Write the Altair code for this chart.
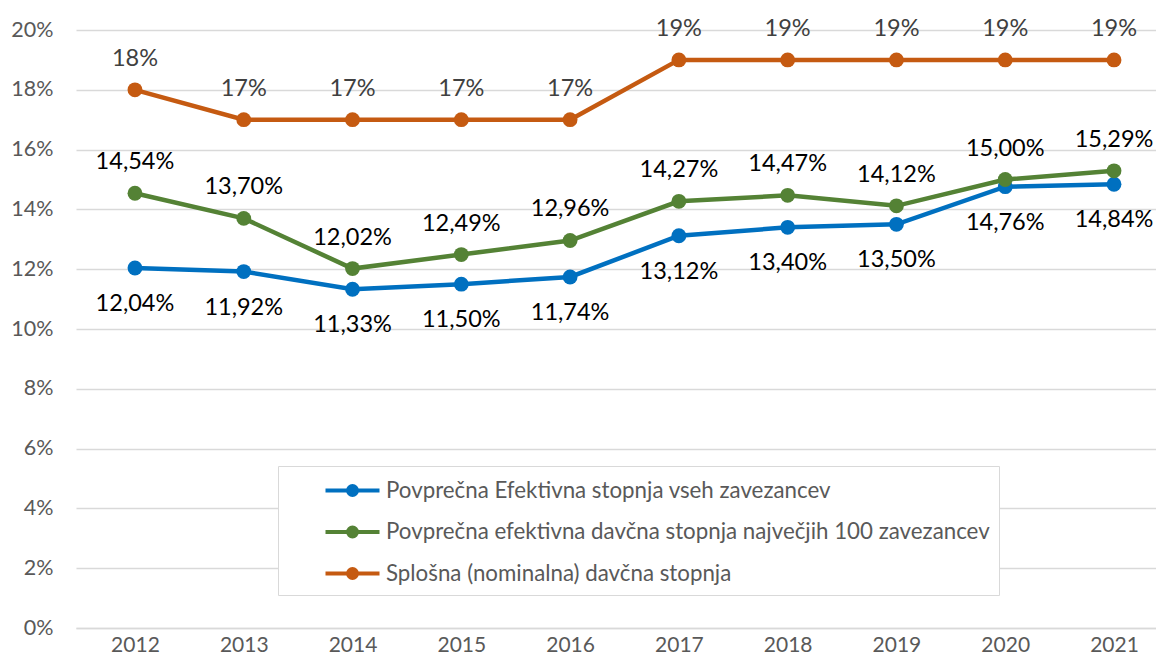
import altair as alt
import pandas as pd

years = [2012, 2013, 2014, 2015, 2016, 2017, 2018, 2019, 2020, 2021]
s_blue = "Povprečna Efektivna stopnja vseh zavezancev"
s_green = "Povprečna efektivna davčna stopnja največjih 100 zavezancev"
s_orange = "Splošna (nominalna) davčna stopnja"
blue = [12.04, 11.92, 11.33, 11.50, 11.74, 13.12, 13.40, 13.50, 14.76, 14.84]
green = [14.54, 13.70, 12.02, 12.49, 12.96, 14.27, 14.47, 14.12, 15.00, 15.29]
orange = [18, 17, 17, 17, 17, 19, 19, 19, 19, 19]
series_names = [s_blue, s_green, s_orange]
series_colors = ["#0070C0", "#548235", "#C55A11"]
y_ticks = [0, 0.02, 0.04, 0.06, 0.08, 0.10, 0.12, 0.14, 0.16, 0.18, 0.20]

rows = []
for name, vals, dec in [(s_blue, blue, 2), (s_green, green, 2), (s_orange, orange, 0)]:
    for yr, v in zip(years, vals):
        rows.append({
            "year": yr,
            "series": name,
            "value": v / 100,
            "label": f"{v:.{dec}f}".replace(".", ",") + "%",
        })
df = pd.DataFrame(rows)

FONT = "Lato"
LEG_PATH = ("M-2,0 L2,0 "
            "M-0.11,0 A0.11,0.11 0 1,1 0.11,0 A0.11,0.11 0 1,1 -0.11,0 "
            "M-0.33,0 A0.33,0.33 0 1,1 0.33,0 A0.33,0.33 0 1,1 -0.33,0")

color_scale = alt.Scale(domain=series_names, range=series_colors)
color_leg = alt.Color(
    "series:N",
    scale=color_scale,
    sort=series_names,
    legend=alt.Legend(
        title=None,
        orient="none",
        legendX=202,
        legendY=436,
        direction="vertical",
        fillColor="white",
        strokeColor="#D9D9D9",
        padding=9,
        symbolType=LEG_PATH,
        symbolSize=729,
        symbolStrokeWidth=4,
        symbolFillColor="transparent",
        symbolOffset=50,
        labelOffset=18,
        labelFont=FONT,
        labelFontSize=22.3,
        labelColor="#595959",
        labelLimit=1000,
        rowPadding=13.5,
    ),
)
color_nol = alt.Color("series:N", scale=color_scale, sort=series_names, legend=None)

x = alt.X(
    "year:Q",
    scale=alt.Scale(domain=[2011.458, 2021.386], nice=False, zero=False),
    axis=alt.Axis(values=years, format="d", title=None, grid=False, ticks=False,
                  domain=True, domainColor="#D9D9D9", domainWidth=1.5,
                  labelFont=FONT, labelFontSize=21, labelColor="#595959",
                  labelPadding=6),
)
y = alt.Y(
    "value:Q",
    scale=alt.Scale(domain=[0, 0.2], nice=False),
    axis=alt.Axis(values=y_ticks, format=".0%", title=None, ticks=False, domain=False,
                  grid=True, gridColor="#D9D9D9", gridWidth=1.5,
                  labelFont=FONT, labelFontSize=21.5, labelColor="#595959",
                  labelPadding=23),
)

base = alt.Chart(df)
lines = base.mark_line(strokeWidth=4.5).encode(x=x, y=y, color=color_leg)
points = base.mark_point(filled=True, size=220, opacity=1).encode(x=x, y=y, color=color_nol)

lab_orange = base.transform_filter(alt.datum.series == s_orange).mark_text(
    font=FONT, fontSize=23.5, color="#404040", baseline="middle", dy=-31
).encode(x=x, y=y, text="label:N")
lab_green = base.transform_filter(alt.datum.series == s_green).mark_text(
    font=FONT, fontSize=23.5, color="#000000", baseline="middle", dy=-31
).encode(x=x, y=y, text="label:N")
lab_blue = base.transform_filter(alt.datum.series == s_blue).mark_text(
    font=FONT, fontSize=23.5, color="#000000", baseline="middle", dy=36
).encode(x=x, y=y, text="label:N")

chart = alt.layer(lines, points, lab_orange, lab_green, lab_blue).properties(
    width=1080,
    height=598,
    autosize=alt.AutoSizeParams(type="none"),
    padding={"left": 68, "top": 22, "right": 0, "bottom": 29},
).configure_view(stroke=None)

chart.save("out.html", embed_options={"renderer": "svg", "actions": False})
